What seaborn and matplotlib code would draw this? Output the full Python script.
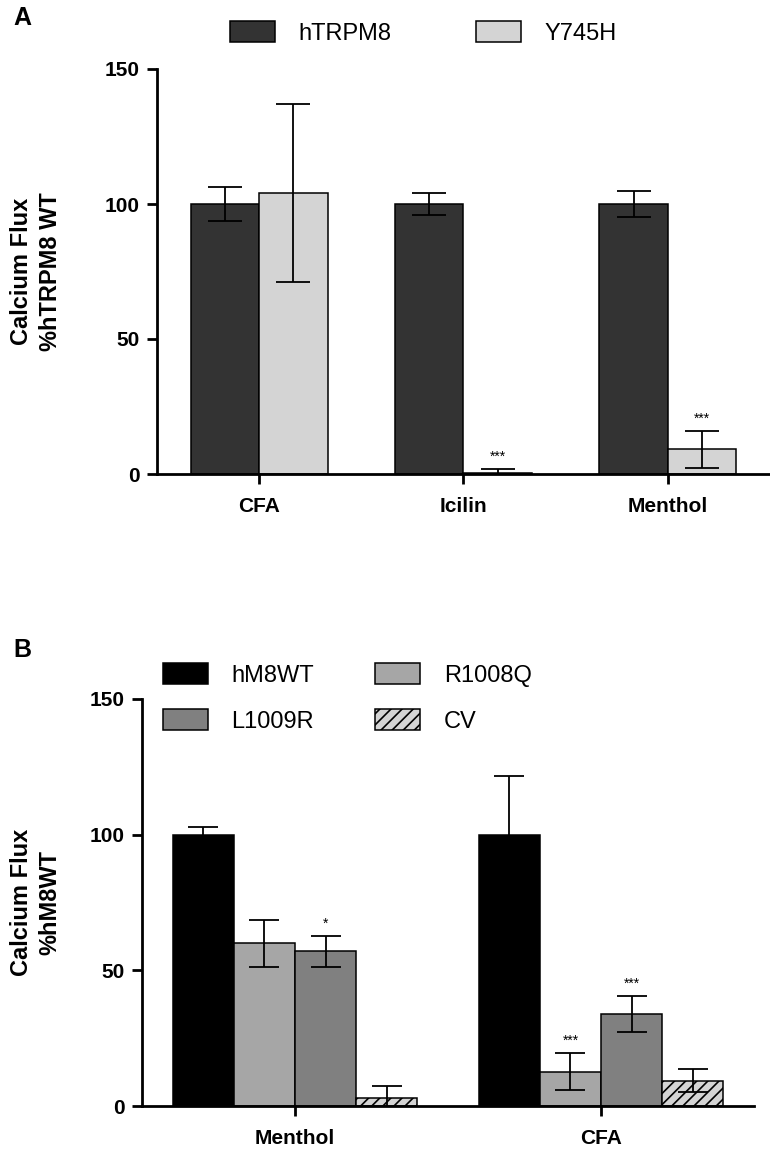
import pandas as pd
import matplotlib
matplotlib.use("Agg")
import matplotlib.pyplot as plt
from matplotlib.patches import Patch
import seaborn as sns

# panel A data
cats_a = ["CFA", "Icilin", "Menthol"]
groups_a = ["hTRPM8", "Y745H"]
mean_a = {"hTRPM8": [100, 100, 100], "Y745H": [104.0, 0.5, 9.1]}
sem_a = {"hTRPM8": [6.2, 4.2, 4.8], "Y745H": [32.9, 1.5, 6.8]}
stars_a = {"hTRPM8": ["", "", ""], "Y745H": ["", "***", "***"]}
colors_a = ["#333333", "#d4d4d4"]

# panel B data
cats_b = ["Menthol", "CFA"]
groups_b = ["hM8WT", "R1008Q", "L1009R", "CV"]
mean_b = {"hM8WT": [100, 100], "R1008Q": [59.9, 12.7],
          "L1009R": [57.0, 34.0], "CV": [2.9, 9.3]}
sem_b = {"hM8WT": [3.0, 21.7], "R1008Q": [8.7, 6.8],
         "L1009R": [5.7, 6.7], "CV": [4.6, 4.3]}
stars_b = {"hM8WT": ["", ""], "R1008Q": ["", "***"],
           "L1009R": ["*", "***"], "CV": ["", ""]}
colors_b = ["#000000", "#a6a6a6", "#808080", "#d4d4d4"]
hatch_b = {"CV": "///"}

yticks = [0, 50, 100, 150]

sns.set_style("ticks")
plt.rcParams["font.family"] = ["Liberation Sans", "DejaVu Sans"]
plt.rcParams["hatch.linewidth"] = 1.2
for k in ["text.color", "axes.labelcolor", "xtick.color", "ytick.color",
          "axes.edgecolor"]:
    plt.rcParams[k] = "black"


def long_table(cats, groups, means):
    rows = []
    for g in groups:
        for c, v in zip(cats, means[g]):
            rows.append({"cond": c, "group": g, "value": v})
    return pd.DataFrame(rows)


def bar_panel(ax, cats, groups, means, sems, stars, colors, width, capsize, hatches={}):
    df = long_table(cats, groups, means)
    sns.barplot(data=df, x="cond", y="value", hue="group", order=cats,
                hue_order=groups, palette=colors, saturation=1, width=width,
                edgecolor="black", linewidth=1.1, errorbar=None,
                legend=False, ax=ax)
    for g, cont in zip(groups, ax.containers):
        for i, bar in enumerate(cont):
            if g in hatches:
                bar.set_hatch(hatches[g])
            x = bar.get_x() + bar.get_width() / 2
            y = means[g][i]
            e = sems[g][i]
            ax.errorbar(x, y, yerr=e, color="black", lw=1.3, capsize=capsize,
                        capthick=1.3, zorder=5)
            if stars[g][i]:
                ax.text(x, y + e + 3, stars[g][i], ha="center",
                        va="baseline", fontsize=10)
    ax.set_xlim(-0.5, len(cats) - 0.5)
    ax.set_ylim(0, 150)
    ax.set_yticks(yticks)
    ax.set_xlabel("")
    sns.despine(ax=ax)
    for s in ["left", "bottom"]:
        ax.spines[s].set_linewidth(2)
    ax.tick_params(axis="both", width=2, length=7.5, labelsize=15, pad=5)
    ax.tick_params(axis="x", labelsize=15, pad=9)
    for lab in ax.get_xticklabels() + ax.get_yticklabels():
        lab.set_fontweight("bold")


fig = plt.figure(figsize=(7.7, 11.5), dpi=100)
W, H = 770, 1150

axA = fig.add_axes([157 / W, 1 - 474 / H, (770 - 157) / W, (474 - 69) / H])
bar_panel(axA, cats_a, groups_a, mean_a, sem_a, stars_a, colors_a, 0.67, 12)
axA.set_ylabel("Calcium Flux\n%hTRPM8 WT", fontsize=17, fontweight="bold",
               linespacing=1.3, va="center")
axA.yaxis.set_label_coords((36 - 157) / 613, 0.5)

axB = fig.add_axes([142 / W, 1 - 1106 / H, (754 - 142) / W, (1106 - 699) / H])
bar_panel(axB, cats_b, groups_b, mean_b, sem_b, stars_b, colors_b, 0.8, 11,
          hatch_b)
axB.set_ylabel("Calcium Flux\n%hM8WT", fontsize=17, fontweight="bold",
               linespacing=1.3, va="center")
axB.yaxis.set_label_coords((36 - 142) / 612, 0.5)

# legends
hA = [Patch(facecolor=c, edgecolor="black", linewidth=1.1) for c in colors_a]
fig.legend(hA, groups_a, loc="center left", bbox_to_anchor=(230 / W, 1 - 33 / H),
           ncol=2, frameon=False, fontsize=17, handlelength=1.9,
           handleheight=0.95, handletextpad=1.0, columnspacing=3.6,
           borderpad=0, borderaxespad=0)

hB = [Patch(facecolor=c, edgecolor="black", linewidth=1.1,
            hatch=hatch_b.get(g, None)) for g, c in zip(groups_b, colors_b)]
# order so that columns read hM8WT/L1009R and R1008Q/CV
order = [0, 2, 1, 3]
fig.legend([hB[i] for i in order], [groups_b[i] for i in order],
           loc="center left", bbox_to_anchor=(163 / W, 1 - 698 / H),
           ncol=2, frameon=False, fontsize=17, handlelength=1.9,
           handleheight=0.95, handletextpad=1.0, columnspacing=2.6,
           labelspacing=0.95, borderpad=0, borderaxespad=0)

fig.text(22 / W, 1 - 18 / H, "A", fontsize=18, fontweight="bold",
         ha="center", va="center")
fig.text(22 / W, 1 - 650 / H, "B", fontsize=18, fontweight="bold",
         ha="center", va="center")

fig.savefig("out.png", dpi=100)
